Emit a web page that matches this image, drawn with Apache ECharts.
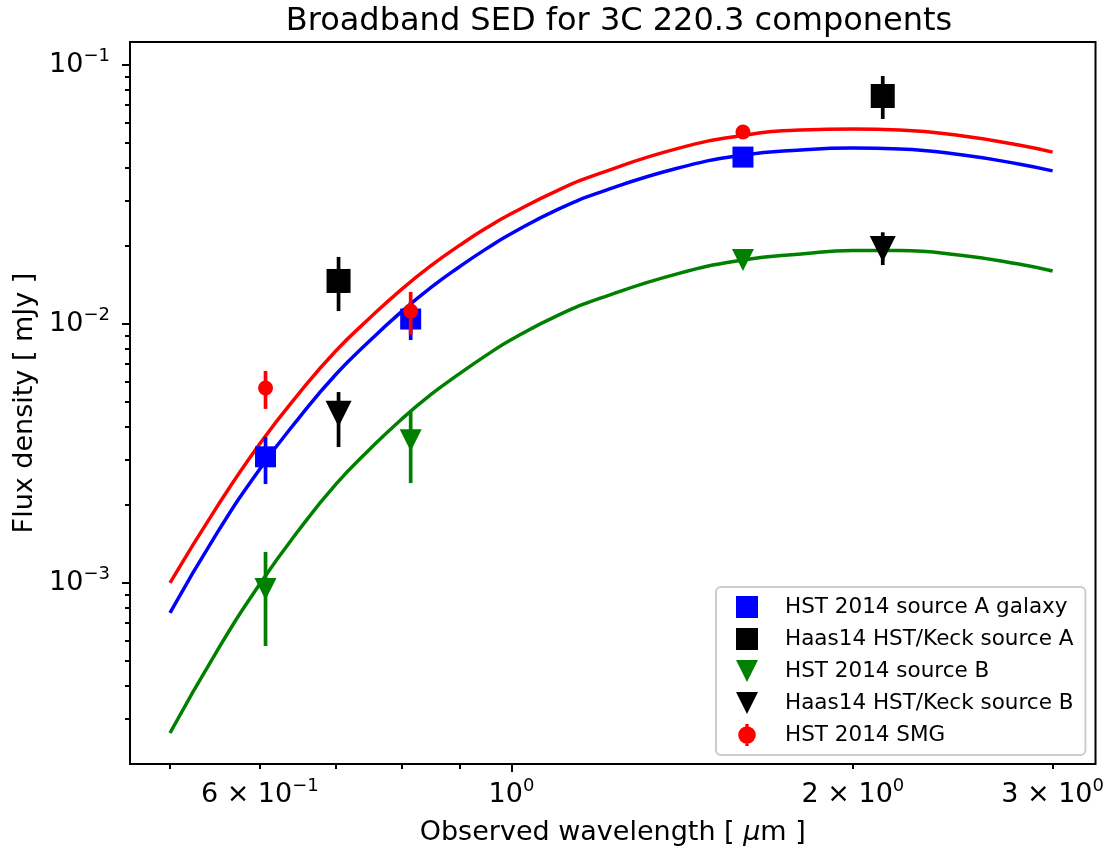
<!DOCTYPE html>
<html><head><meta charset="utf-8">
<script src="https://cdn.jsdelivr.net/npm/echarts@6/dist/echarts.min.js"></script>
<style>html,body{margin:0;padding:0;background:#fff}#c{width:1107px;height:854px}</style>
</head><body><div id="c"></div>
<script>
// ---- model curves ----
const curveX   = [0.5, 0.55, 0.6, 0.65, 0.7, 0.75, 0.8, 0.85, 0.9, 0.95, 1.0, 1.1, 1.2, 1.4, 1.6, 1.8, 2.0, 2.2, 2.5, 2.8, 3.0];
const curveSMG = [1.0e-3, 1.967e-3, 3.45e-3, 5.41e-3, 7.862e-3, 1.054e-2, 1.361e-2, 1.685e-2, 2.011e-2, 2.346e-2, 2.669e-2, 3.289e-2, 3.831e-2, 4.755e-2, 5.347e-2, 5.61e-2, 5.66e-2, 5.61e-2, 5.32e-2, 4.91e-2, 4.61e-2];
const curveA   = [7.66e-4, 1.558e-3, 2.755e-3, 4.35e-3, 6.383e-3, 8.613e-3, 1.116e-2, 1.388e-2, 1.664e-2, 1.95e-2, 2.235e-2, 2.777e-2, 3.236e-2, 3.992e-2, 4.488e-2, 4.70e-2, 4.78e-2, 4.74e-2, 4.49e-2, 4.147e-2, 3.90e-2];
const curveB   = [2.635e-4, 5.46e-4, 9.91e-4, 1.608e-3, 2.401e-3, 3.283e-3, 4.29e-3, 5.36e-3, 6.429e-3, 7.565e-3, 8.714e-3, 1.082e-2, 1.261e-2, 1.562e-2, 1.765e-2, 1.863e-2, 1.922e-2, 1.922e-2, 1.838e-2, 1.705e-2, 1.602e-2];

// ---- measurements ----
const aGalX  = [0.607, 0.815, 1.60];
const aGalY  = [3.07e-3, 1.045e-2, 4.41e-2];
const aGalLo = [2.41e-3, 8.67e-3, 4.2e-2];
const aGalHi = [3.66e-3, 1.22e-2, 4.62e-2];

const haasAX  = [0.704, 2.125];
const haasAY  = [1.466e-2, 7.59e-2];
const haasALo = [1.122e-2, 6.19e-2];
const haasAHi = [1.815e-2, 9.07e-2];

const bX  = [0.607, 0.815, 1.60];
const bY  = [9.48e-4, 3.56e-3, 1.766e-2];
const bLo = [5.71e-4, 2.43e-3, 1.70e-2];
const bHi = [1.318e-3, 4.57e-3, 1.83e-2];

const haasBX  = [0.704, 2.125];
const haasBY  = [4.50e-3, 1.95e-2];
const haasBLo = [3.35e-3, 1.69e-2];
const haasBHi = [5.46e-3, 2.26e-2];

const smgX  = [0.607, 0.815, 1.60];
const smgY  = [5.66e-3, 1.122e-2, 5.51e-2];
const smgLo = [4.70e-3, 9.1e-3, 5.3e-2];
const smgHi = [6.59e-3, 1.33e-2, 5.72e-2];

const seriesNames = ['HST 2014 source A galaxy', 'Haas14 HST/Keck source A', 'HST 2014 source B', 'Haas14 HST/Keck source B', 'HST 2014 SMG'];

// ---- ticks ----
const xMajorTicks = [1];
const xMinorTicks = [0.5, 0.6, 0.7, 0.8, 0.9, 2, 3];
const xLabelVals  = [0.6, 1, 2, 3];
const xLabelText  = ['{b|6 × 10}{s|−1}', '{b|10}{s|0}', '{b|2 × 10}{s|0}', '{b|3 × 10}{s|0}'];
const yMajorTicks = [1e-3, 1e-2, 1e-1];
const yMinorTicks = [3e-4, 4e-4, 5e-4, 6e-4, 7e-4, 8e-4, 9e-4, 2e-3, 3e-3, 4e-3, 5e-3, 6e-3, 7e-3, 8e-3, 9e-3, 2e-2, 3e-2, 4e-2, 5e-2, 6e-2, 7e-2, 8e-2, 9e-2];
const yLabelText  = ['{b|10}{s|−3}', '{b|10}{s|−2}', '{b|10}{s|−1}'];

const FONT = 'DejaVu Sans';
const X_MIN = 0.461, X_MAX = 3.273, Y_MIN = 2.0e-4, Y_MAX = 0.1227;

const rich = {
  b: {fontFamily: FONT, fontSize: 27, lineHeight: 36, color: '#000'},
  s: {fontFamily: FONT, fontSize: 18, lineHeight: 22, verticalAlign: 'top', color: '#000'}
};
function findLabel(vals, texts, v) {
  for (let i = 0; i < vals.length; i++) if (Math.abs(vals[i] - v) / vals[i] < 1e-6) return texts[i];
  return '';
}

function pts(xs, ys) { return xs.map((x, i) => [x, ys[i]]); }
function errs(xs, lo, hi) { return xs.map((x, i) => [x, lo[i], hi[i]]); }
function errSeries(data, color, z) {
  return {
    type: 'custom', xAxisIndex: 0, yAxisIndex: 0, z: z, silent: true,
    encode: {x: 0, y: [1, 2]},
    data: data,
    renderItem: function (params, api) {
      const p1 = api.coord([api.value(0), api.value(1)]);
      const p2 = api.coord([api.value(0), api.value(2)]);
      return {type: 'line', shape: {x1: p1[0], y1: p1[1], x2: p2[0], y2: p2[1]},
              style: {stroke: color, lineWidth: 3.7}};
    }
  };
}
function lineSeries(name, ys, color) {
  return {type: 'line', name: name, data: pts(curveX, ys), showSymbol: false, symbol: 'none',
          smooth: 0.5, z: 2, lineStyle: {color: color, width: 3.5}, itemStyle: {color: color}};
}

const TRI_DOWN = 'path://M0,0 L20,0 L10,20 Z';

const chart = echarts.init(document.getElementById('c'), null, {renderer: 'canvas'});
chart.setOption({
  animation: false,
  backgroundColor: '#fff',
  title: {
    text: 'Broadband SED for 3C 220.3 components',
    left: 614, top: 1, textAlign: 'center',
    textStyle: {fontFamily: FONT, fontSize: 32, fontWeight: 'normal', color: '#000'}
  },
  grid: {left: 130, right: 10, top: 42, bottom: 90, show: true, borderColor: '#000', borderWidth: 2, backgroundColor: 'transparent'},
  legend: {
    orient: 'vertical', left: 716, top: 587,
    data: [
      {name: seriesNames[0], icon: 'rect'},
      {name: seriesNames[1], icon: 'rect'},
      {name: seriesNames[2], icon: TRI_DOWN},
      {name: seriesNames[3], icon: TRI_DOWN},
      {name: seriesNames[4], icon: 'path://M6.5,0 H9.5 V20 H6.5 Z M0,10 A8,8 0 1,1 16,10 A8,8 0 1,1 0,10 Z'}
    ],
    itemWidth: 22, itemHeight: 22, itemGap: 10,
    padding: [9, 12, 9, 20],
    borderColor: '#cccccc', borderWidth: 2, borderRadius: 5,
    backgroundColor: 'rgba(255,255,255,0.8)',
    selectedMode: false,
    textStyle: {fontFamily: FONT, fontSize: 21.5, color: '#000', padding: [0, 0, 0, 22]}
  },
  xAxis: [
    {
      type: 'log', min: X_MIN, max: X_MAX, position: 'bottom',
      name: 'Observed wavelength [ {i|μ}m ]', nameLocation: 'middle', nameGap: 55,
      nameTextStyle: {fontFamily: FONT, fontSize: 27, color: '#000',
        rich: {i: {fontFamily: FONT, fontSize: 27, fontStyle: 'italic', color: '#000'}}},
      axisLine: {show: false},
      splitLine: {show: false}, minorTick: {show: false}, minorSplitLine: {show: false},
      axisTick: {show: true, length: 8, customValues: xMajorTicks, lineStyle: {color: '#000', width: 2}},
      axisLabel: {show: true, margin: 13, customValues: xLabelVals,
        formatter: v => findLabel(xLabelVals, xLabelText, v), rich: rich}
    },
    {
      type: 'log', min: X_MIN, max: X_MAX, position: 'bottom',
      axisLine: {show: false}, splitLine: {show: false},
      axisTick: {show: true, length: 5, customValues: xMinorTicks, lineStyle: {color: '#000', width: 2}},
      axisLabel: {show: false}
    }
  ],
  yAxis: [
    {
      type: 'log', min: Y_MIN, max: Y_MAX, position: 'left',
      name: 'Flux density [ mJy ]', nameLocation: 'middle', nameGap: 90,
      nameTextStyle: {fontFamily: FONT, fontSize: 27, color: '#000'},
      axisLine: {show: false},
      splitLine: {show: false}, minorTick: {show: false}, minorSplitLine: {show: false},
      axisTick: {show: true, length: 8, customValues: yMajorTicks, lineStyle: {color: '#000', width: 2}},
      axisLabel: {show: true, margin: 20, customValues: yMajorTicks,
        formatter: v => findLabel(yMajorTicks, yLabelText, v), rich: rich}
    },
    {
      type: 'log', min: Y_MIN, max: Y_MAX, position: 'left',
      axisLine: {show: false}, splitLine: {show: false},
      axisTick: {show: true, length: 5, customValues: yMinorTicks, lineStyle: {color: '#000', width: 2}},
      axisLabel: {show: false}
    }
  ],
  series: [
    lineSeries('model B', curveB, '#008000'),
    lineSeries('model A', curveA, '#0000ff'),
    lineSeries('model SMG', curveSMG, '#ff0000'),

    errSeries(errs(aGalX, aGalLo, aGalHi), '#0000ff', 10),
    {type: 'scatter', name: seriesNames[0], data: pts(aGalX, aGalY), symbol: 'rect', symbolSize: 21, z: 11,
     itemStyle: {color: '#0000ff', opacity: 1}},

    errSeries(errs(haasAX, haasALo, haasAHi), '#000000', 12),
    {type: 'scatter', name: seriesNames[1], data: pts(haasAX, haasAY), symbol: 'rect', symbolSize: 24, z: 13,
     itemStyle: {color: '#000000', opacity: 1}},

    errSeries(errs(bX, bLo, bHi), '#008000', 14),
    {type: 'scatter', name: seriesNames[2], data: pts(bX, bY), symbol: 'triangle', symbolRotate: 180, symbolSize: 22, z: 15,
     itemStyle: {color: '#008000', opacity: 1}},

    errSeries(errs(haasBX, haasBLo, haasBHi), '#000000', 16),
    {type: 'scatter', name: seriesNames[3], data: pts(haasBX, haasBY), symbol: 'triangle', symbolRotate: 180, symbolSize: 26, z: 17,
     itemStyle: {color: '#000000', opacity: 1}},

    errSeries(errs(smgX, smgLo, smgHi), '#ff0000', 18),
    {type: 'scatter', name: seriesNames[4], data: pts(smgX, smgY), symbol: 'circle', symbolSize: 15, z: 19,
     itemStyle: {color: '#ff0000', opacity: 1}}
  ]
});
</script>
</body></html>
